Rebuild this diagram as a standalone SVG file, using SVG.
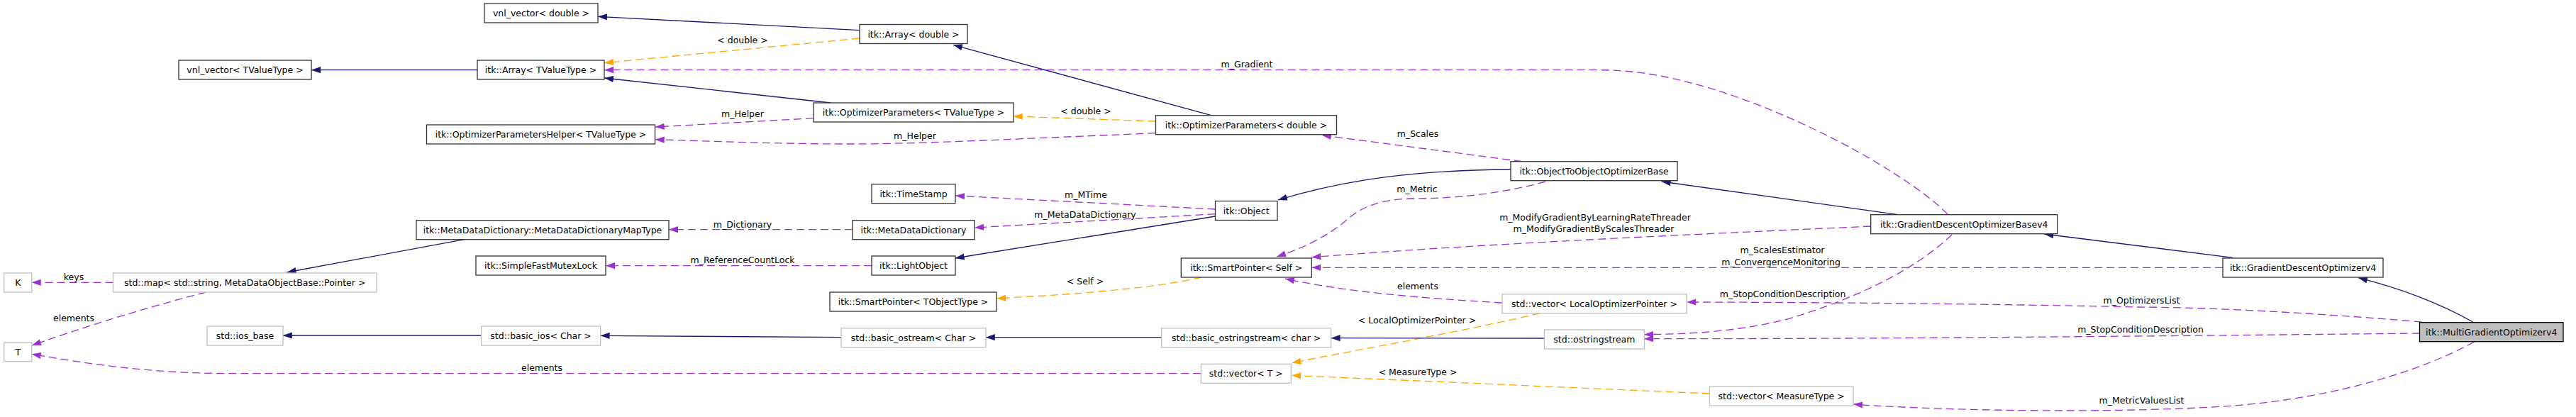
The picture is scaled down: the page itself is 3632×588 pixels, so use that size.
<svg xmlns="http://www.w3.org/2000/svg" width="3632" height="588" viewBox="0 0 3632 588">
<style>
rect{fill:#fff;stroke:#333;stroke-width:1.3}
.s rect{stroke:#c0c0c0}
.m rect{fill:#bfbfbf;stroke:#000}
text{font-family:"DejaVu Sans","Liberation Sans",sans-serif;font-size:12.5px;fill:#000;text-anchor:middle}
.e path{fill:none;stroke-width:1.3}
.inh{stroke:#191970;marker-end:url(#aN)}
.use{stroke:#9a32cd;stroke-dasharray:11,6;marker-end:url(#aP)}
.tpl{stroke:#ffa500;stroke-dasharray:11,6;marker-end:url(#aO)}
</style>
<defs>
<marker id="aN" markerWidth="14" markerHeight="10" refX="13" refY="5" orient="auto" markerUnits="userSpaceOnUse"><path d="M0,0.4 L13,5 L0,9.6 z" fill="#191970"/></marker>
<marker id="aP" markerWidth="14" markerHeight="10" refX="13" refY="5" orient="auto" markerUnits="userSpaceOnUse"><path d="M0,0.4 L13,5 L0,9.6 z" fill="#9a32cd"/></marker>
<marker id="aO" markerWidth="14" markerHeight="10" refX="13" refY="5" orient="auto" markerUnits="userSpaceOnUse"><path d="M0,0.4 L13,5 L0,9.6 z" fill="#ffa500"/></marker>
</defs>
<rect x="0" y="0" width="3632" height="588" style="fill:#fff;stroke:none"/>
<g class="e" id="edges">
<path class="inh" d="M1212,42.7 L843,23.3"/>
<path class="tpl" d="M1212,54 L852,88.7"/>
<path class="use" d="M2746,302 C2700,255 2560,170 2410,124 C2340,104 2300,98.7 2250,98.7 L852,98.7"/>
<path class="inh" d="M1171,145 L852,110"/>
<path class="use" d="M1147,166.7 L923.7,179"/>
<path class="inh" d="M1707.7,162.7 L1344,63.3"/>
<path class="tpl" d="M1629.5,171 L1428.7,164"/>
<path class="use" d="M1629.5,187.7 C1450,195 1300,203 1200,203 C1100,203 1000,199 923.7,196.7"/>
<path class="use" d="M2146,227.7 L1864,190.7"/>
<path class="inh" d="M2130,239 C2000,240 1900,252 1802,282"/>
<path class="use" d="M2179,256 C2120,272 2060,280 1990,280 C1930,282 1910,300 1893,315 C1860,340 1830,352 1800,362"/>
<path class="inh" d="M2676,302.7 L2342.7,256"/>
<path class="use" d="M1713.5,295 L1347,276"/>
<path class="use" d="M1713.5,301.7 L1374,321"/>
<path class="inh" d="M1713.5,305 L1346.7,364"/>
<path class="use" d="M1202,323.7 L943,323.7"/>
<path class="use" d="M1229,374.7 L854,374.7"/>
<path class="inh" d="M656,337.3 L404.6,384"/>
<path class="use" d="M159.5,398.3 L44.7,398.3"/>
<path class="use" d="M290,412 C230,428 150,450 45,487"/>
<path class="use" d="M2637.7,319 C2400,330 2100,343 1849.4,362.7"/>
<path class="use" d="M3134,377.3 L1849.4,377.3"/>
<path class="use" d="M2752,331 C2700,380 2620,420 2520,450 C2450,468 2380,471 2318,471.7"/>
<path class="use" d="M3414.6,454 C3250,440 3100,433 3010,433 C2800,428 2500,426 2378,426"/>
<path class="use" d="M3411.5,470 C3200,472 2700,478 2318,477.7"/>
<path class="use" d="M3488.5,482 C3420,520 3300,560 3150,572 C3000,583 2750,580 2613,570"/>
<path class="inh" d="M3486.6,454 C3440,428 3390,408 3325,391.7"/>
<path class="inh" d="M3148,363.3 L2882.4,330"/>
<path class="use" d="M2117.8,427 C2000,420 1900,412 1812,393"/>
<path class="tpl" d="M2171.5,441.7 C2050,470 1930,490 1821.4,511.7"/>
<path class="tpl" d="M1694,391 C1620,408 1500,416 1405.4,420.7"/>
<path class="inh" d="M1637.7,475.7 L1389.8,475.7"/>
<path class="inh" d="M2177.4,477 L1876.6,476.7"/>
<path class="inh" d="M1185.9,475.7 L846.6,473.3"/>
<path class="inh" d="M678.6,473 L398.8,473"/>
<path class="use" d="M1693.3,526.7 L320,526.7 C220,526 140,516 44.7,499.3"/>
<path class="tpl" d="M2410.5,555 L1821.4,529.3"/>
<path class="inh" d="M673,98.7 L439,98.7"/>
<text x="1047" y="60.5">&lt; double &gt;</text>
<text x="1758" y="95">m_Gradient</text>
<text x="1047" y="165">m_Helper</text>
<text x="1531" y="160.5">&lt; double &gt;</text>
<text x="1290" y="196">m_Helper</text>
<text x="1999" y="193">m_Scales</text>
<text x="1998" y="271">m_Metric</text>
<text x="1531" y="278.8">m_MTime</text>
<text x="1530" y="307">m_MetaDataDictionary</text>
<text x="1047" y="320.5">m_Dictionary</text>
<text x="1047" y="371">m_ReferenceCountLock</text>
<text x="104" y="394.5">keys</text>
<text x="104" y="453">elements</text>
<text x="2249" y="311">m_ModifyGradientByLearningRateThreader</text>
<text x="2247" y="327">m_ModifyGradientByScalesThreader</text>
<text x="2513" y="357">m_ScalesEstimator</text>
<text x="2511" y="373.5">m_ConvergenceMonitoring</text>
<text x="2513.6" y="419">m_StopConditionDescription</text>
<text x="3019.5" y="427.8">m_OptimizersList</text>
<text x="3018" y="468.8">m_StopConditionDescription</text>
<text x="3019.5" y="568.8">m_MetricValuesList</text>
<text x="1999" y="407.8">elements</text>
<text x="1998" y="455.8">&lt; LocalOptimizerPointer &gt;</text>
<text x="1530" y="400.5">&lt; Self &gt;</text>
<text x="764" y="523">elements</text>
<text x="1999" y="528.8">&lt; MeasureType &gt;</text>
</g>
<g id="n1"><rect x="683" y="5" width="160" height="27"/><text x="763" y="23">vnl_vector&lt; double &gt;</text></g>
<g id="n2"><rect x="1212" y="34.5" width="152" height="27"/><text x="1288" y="52.5">itk::Array&lt; double &gt;</text></g>
<g id="n3"><rect x="252" y="85" width="187" height="27"/><text x="345.5" y="103">vnl_vector&lt; TValueType &gt;</text></g>
<g id="n4"><rect x="673" y="85" width="179" height="27"/><text x="762.5" y="103">itk::Array&lt; TValueType &gt;</text></g>
<g id="n5"><rect x="1147" y="145" width="282" height="27"/><text x="1288" y="163">itk::OptimizerParameters&lt; TValueType &gt;</text></g>
<g id="n6"><rect x="601.5" y="176" width="322" height="27"/><text x="762.5" y="194">itk::OptimizerParametersHelper&lt; TValueType &gt;</text></g>
<g id="n7"><rect x="1629.5" y="162.7" width="255" height="27"/><text x="1757" y="180.7">itk::OptimizerParameters&lt; double &gt;</text></g>
<g id="n8"><rect x="2130" y="227.7" width="235" height="27"/><text x="2247.5" y="245.7">itk::ObjectToObjectOptimizerBase</text></g>
<g id="n9"><rect x="1229" y="259.7" width="118" height="27"/><text x="1288" y="277.7">itk::TimeStamp</text></g>
<g id="n10"><rect x="1713.5" y="283.5" width="87.5" height="27"/><text x="1757.2" y="301.5">itk::Object</text></g>
<g id="n11"><rect x="2637.7" y="302.7" width="263" height="27"/><text x="2769.2" y="320.7">itk::GradientDescentOptimizerBasev4</text></g>
<g id="n12"><rect x="587" y="310.7" width="356" height="27"/><text x="765" y="328.7">itk::MetaDataDictionary::MetaDataDictionaryMapType</text></g>
<g id="n13"><rect x="1202" y="310.7" width="172" height="27"/><text x="1288" y="328.7">itk::MetaDataDictionary</text></g>
<g id="n14"><rect x="671" y="361" width="183" height="27"/><text x="762.5" y="379">itk::SimpleFastMutexLock</text></g>
<g id="n15"><rect x="1229" y="361" width="118" height="27"/><text x="1288" y="379">itk::LightObject</text></g>
<g id="n16"><rect x="1665.3" y="364" width="184" height="27"/><text x="1757.3" y="382">itk::SmartPointer&lt; Self &gt;</text></g>
<g id="n17"><rect x="3134" y="364" width="226" height="27"/><text x="3247" y="382">itk::GradientDescentOptimizerv4</text></g>
<g id="n18" class="s"><rect x="5.8" y="385" width="39" height="27"/><text x="25.3" y="403">K</text></g>
<g id="n19" class="s"><rect x="159.5" y="385" width="371.5" height="27"/><text x="345.2" y="403">std::map&lt; std::string, MetaDataObjectBase::Pointer &gt;</text></g>
<g id="n20"><rect x="1170" y="412" width="235" height="27"/><text x="1287.5" y="430">itk::SmartPointer&lt; TObjectType &gt;</text></g>
<g id="n21" class="s"><rect x="2118" y="414.7" width="260" height="27"/><text x="2248" y="432.7">std::vector&lt; LocalOptimizerPointer &gt;</text></g>
<g id="n22" class="s"><rect x="5.8" y="482.7" width="39" height="27"/><text x="25.3" y="500.7">T</text></g>
<g id="n23" class="s"><rect x="292" y="460" width="107" height="27"/><text x="345.5" y="478">std::ios_base</text></g>
<g id="n24" class="s"><rect x="678.6" y="460" width="168" height="27"/><text x="762.6" y="478">std::basic_ios&lt; Char &gt;</text></g>
<g id="n25" class="s"><rect x="1186" y="462.7" width="204" height="27"/><text x="1288" y="480.7">std::basic_ostream&lt; Char &gt;</text></g>
<g id="n26" class="s"><rect x="1637.7" y="462.7" width="239" height="27"/><text x="1757.2" y="480.7">std::basic_ostringstream&lt; char &gt;</text></g>
<g id="n27" class="s"><rect x="2177.4" y="465" width="141" height="27"/><text x="2247.9" y="483">std::ostringstream</text></g>
<g id="n28" class="m"><rect x="3411.5" y="454.7" width="202.5" height="27"/><text x="3512.7" y="472.7">itk::MultiGradientOptimizerv4</text></g>
<g id="n29" class="s"><rect x="1693.3" y="513.3" width="127" height="27"/><text x="1756.8" y="531.3">std::vector&lt; T &gt;</text></g>
<g id="n30" class="s"><rect x="2410.5" y="545" width="202.5" height="27"/><text x="2511.7" y="563">std::vector&lt; MeasureType &gt;</text></g>
</svg>
